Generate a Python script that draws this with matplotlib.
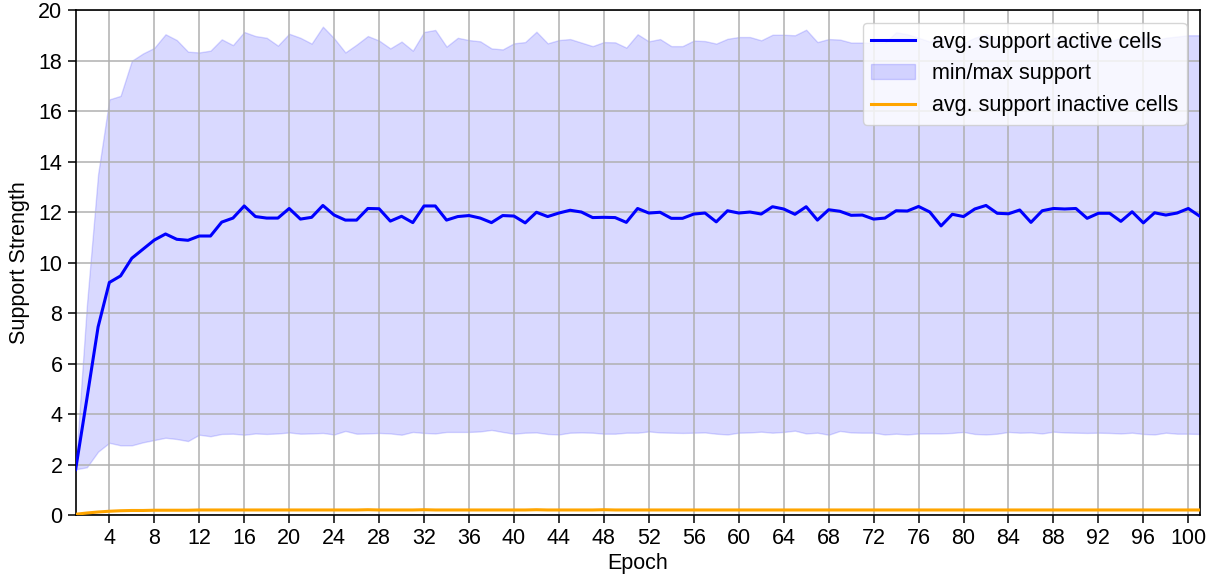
import numpy as np
import matplotlib
matplotlib.use("Agg")
import matplotlib.pyplot as plt

plt.rcParams['font.family'] = ['Liberation Sans', 'DejaVu Sans']

# Per-epoch support statistics
epochs = list(range(1, 102))

avg_active = [
    1.80, 4.60, 7.45, 9.21, 9.47, 10.17, 10.53, 10.89, 11.13, 10.92,
    10.88, 11.05, 11.05, 11.60, 11.76, 12.24, 11.82, 11.76, 11.76, 12.14,
    11.72, 11.79, 12.26, 11.88, 11.68, 11.68, 12.14, 12.13, 11.64, 11.83,
    11.58, 12.24, 12.24, 11.68, 11.82, 11.86, 11.76, 11.58, 11.86, 11.84,
    11.57, 11.99, 11.82, 11.96, 12.07, 12.00, 11.78, 11.79, 11.78, 11.59,
    12.14, 11.96, 11.99, 11.75, 11.75, 11.92, 11.96, 11.61, 12.05, 11.96,
    12.00, 11.92, 12.21, 12.12, 11.91, 12.21, 11.68, 12.09, 12.03, 11.87,
    11.88, 11.72, 11.76, 12.05, 12.04, 12.22, 12.00, 11.45, 11.91, 11.82,
    12.12, 12.26, 11.95, 11.93, 12.08, 11.59, 12.05, 12.14, 12.12, 12.14,
    11.75, 11.95, 11.95, 11.63, 12.01, 11.57, 11.97, 11.88, 11.96, 12.14,
    11.84,
]

max_support = [
    1.85, 8.30, 13.50, 16.46, 16.60, 17.99, 18.28, 18.50, 19.04, 18.81,
    18.35, 18.32, 18.39, 18.84, 18.61, 19.13, 18.97, 18.90, 18.59, 19.06,
    18.90, 18.67, 19.34, 18.88, 18.32, 18.63, 18.97, 18.79, 18.48, 18.75,
    18.39, 19.13, 19.21, 18.55, 18.90, 18.81, 18.76, 18.48, 18.44, 18.68,
    18.73, 19.14, 18.68, 18.81, 18.85, 18.71, 18.57, 18.73, 18.72, 18.51,
    19.04, 18.76, 18.85, 18.57, 18.57, 18.79, 18.77, 18.67, 18.86, 18.93,
    18.93, 18.80, 19.02, 19.02, 19.00, 19.22, 18.73, 18.85, 18.83, 18.71,
    18.71, 18.70, 18.70, 19.12, 19.04, 18.90, 18.75, 18.95, 18.80, 18.70,
    18.90, 19.05, 18.85, 18.75, 18.95, 18.80, 18.70, 18.90, 18.95, 18.80,
    18.85, 19.00, 18.75, 18.90, 18.85, 18.95, 18.80, 18.90, 18.95, 19.00,
    19.00,
]

min_support = [
    1.81, 1.89, 2.51, 2.86, 2.76, 2.76, 2.88, 2.97, 3.06, 3.01,
    2.93, 3.18, 3.12, 3.21, 3.22, 3.18, 3.23, 3.21, 3.23, 3.27,
    3.22, 3.23, 3.25, 3.19, 3.33, 3.22, 3.23, 3.25, 3.23, 3.18,
    3.29, 3.25, 3.23, 3.29, 3.29, 3.29, 3.31, 3.37, 3.29, 3.22,
    3.26, 3.27, 3.21, 3.19, 3.26, 3.27, 3.26, 3.22, 3.22, 3.26,
    3.26, 3.31, 3.27, 3.26, 3.25, 3.26, 3.27, 3.22, 3.19, 3.26,
    3.27, 3.30, 3.26, 3.29, 3.34, 3.23, 3.26, 3.18, 3.33, 3.27,
    3.26, 3.26, 3.19, 3.22, 3.19, 3.23, 3.23, 3.23, 3.25, 3.29,
    3.21, 3.19, 3.22, 3.29, 3.26, 3.27, 3.23, 3.30, 3.27, 3.26,
    3.25, 3.26, 3.25, 3.23, 3.26, 3.21, 3.19, 3.26, 3.22, 3.22,
    3.21,
]

avg_inactive = [
    0.03, 0.08, 0.12, 0.15, 0.17, 0.18, 0.18, 0.19, 0.19, 0.19,
    0.19, 0.20, 0.20, 0.20, 0.20, 0.20, 0.20, 0.20, 0.20, 0.20,
    0.20, 0.20, 0.20, 0.20, 0.20, 0.20, 0.21, 0.20, 0.20, 0.20,
    0.20, 0.21, 0.20, 0.20, 0.20, 0.20, 0.20, 0.20, 0.20, 0.20,
    0.20, 0.21, 0.20, 0.20, 0.20, 0.20, 0.20, 0.21, 0.20, 0.20,
    0.20, 0.20, 0.20, 0.20, 0.20, 0.20, 0.20, 0.20, 0.20, 0.20,
    0.20, 0.20, 0.20, 0.20, 0.20, 0.20, 0.20, 0.20, 0.20, 0.20,
    0.20, 0.20, 0.20, 0.20, 0.20, 0.20, 0.20, 0.20, 0.20, 0.20,
    0.20, 0.20, 0.20, 0.20, 0.20, 0.20, 0.20, 0.20, 0.20, 0.20,
    0.20, 0.20, 0.20, 0.20, 0.20, 0.20, 0.20, 0.20, 0.20, 0.20,
    0.20,
]

x_ticks = list(range(4, 101, 4))
y_ticks = list(range(0, 21, 2))

FS = 15.5

fig = plt.figure(figsize=(12.08, 5.79), dpi=100)
ax = fig.add_axes([0.0626, 0.1105, 0.9304, 0.8722])

ax.plot(epochs, avg_active, color='#0000ff', lw=2.2, label='avg. support active cells', zorder=3)
ax.fill_between(epochs, min_support, max_support, color='blue', alpha=0.15, label='min/max support')
ax.plot(epochs, avg_inactive, color='orange', lw=2.2, label='avg. support inactive cells', zorder=3)

ax.set_xlim(1, 101)
ax.set_ylim(0, 20)
ax.set_xticks(x_ticks)
ax.set_yticks(y_ticks)
ax.tick_params(labelsize=FS, length=6, width=1.1)
ax.grid(True, color='#b0b0b0', lw=1.1)

for s in ax.spines.values():
    s.set_linewidth(1.2)

ax.set_xlabel('Epoch', fontsize=FS, labelpad=3)
ax.set_ylabel('Support Strength', fontsize=FS, labelpad=6)

ax.legend(loc='upper right', fontsize=FS, framealpha=0.8, borderaxespad=0.6)

fig.savefig('out.png', dpi=100)
